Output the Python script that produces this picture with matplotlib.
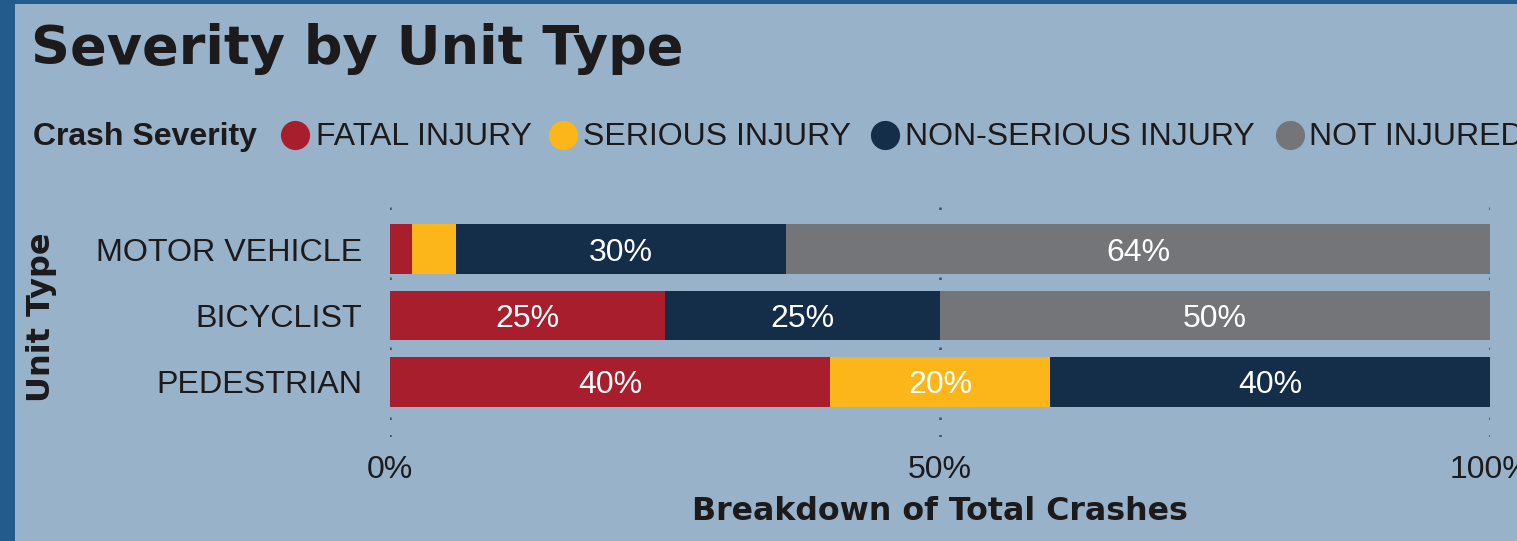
import matplotlib
matplotlib.use("Agg")
import matplotlib.pyplot as plt
from matplotlib.lines import Line2D
from matplotlib.patches import Rectangle
import numpy as np

# ---- data ----
unit_types = ["MOTOR VEHICLE", "BICYCLIST", "PEDESTRIAN"]
severities = ["FATAL INJURY", "SERIOUS INJURY", "NON-SERIOUS INJURY", "NOT INJURED"]
fatal = [2, 25, 40]
serious = [4, 0, 20]
non_serious = [30, 25, 40]
not_injured = [64, 50, 0]
series = [fatal, serious, non_serious, not_injured]
colors = ["#a91e2c", "#fcb61a", "#142d48", "#747579"]
x_ticks = [0, 50, 100]
x_tick_labels = ["0%", "50%", "100%"]

W, H = 1517, 541
DPI = 100
BG = "#98b2ca"
TXT = "#1c1a1b"
FONT = "Liberation Sans"

fig = plt.figure(figsize=(W / DPI, H / DPI), dpi=DPI)
fig.patch.set_facecolor(BG)

def fx(px):
    return px / W

def fy(py):
    return 1 - py / H

# frame border (left and top)
fig.add_artist(Rectangle((0, 0), fx(15), 1, transform=fig.transFigure,
                         facecolor="#235b8c", edgecolor="none", zorder=0))
fig.add_artist(Rectangle((0, fy(4)), 1, fy(0) - fy(4), transform=fig.transFigure,
                         facecolor="#235b8c", edgecolor="none", zorder=0))

ax = fig.add_axes([fx(390), fy(437), fx(1490) - fx(390), fy(200) - fy(437)])
ax.set_facecolor("none")

y = np.arange(len(unit_types))
left = np.zeros(len(unit_types))
for vals, col in zip(series, colors):
    vals = np.array(vals, dtype=float)
    ax.barh(y, vals, left=left, height=0.75, color=col, edgecolor="none", zorder=3)
    for yi, (l, v) in enumerate(zip(left, vals)):
        if v >= 10:
            ax.text(l + v / 2, yi, f"{v:.0f}%", ha="center", va="center_baseline",
                    color="white", fontsize=23, family=FONT, zorder=4)
    left += vals

ax.set_xlim(0, 100)
ax.set_ylim(2.83, -0.74)
ax.set_yticks(y)
ax.set_yticklabels(unit_types, fontsize=23.2, family=FONT, color=TXT)
ax.set_xticks(x_ticks)
ax.set_xticklabels(x_tick_labels, fontsize=23, family=FONT, color=TXT)
ax.tick_params(axis="y", length=0, pad=20)
ax.tick_params(axis="x", length=0, pad=13)
for s in ax.spines.values():
    s.set_visible(False)
ax.grid(axis="x", color="#4a4f57", linestyle=(0, (1, 6)), linewidth=1.8, zorder=1)
ax.grid(axis="y", visible=False)

# axis titles
fig.text(fx(940), fy(511), "Breakdown of Total Crashes", fontsize=22.8, fontweight="bold",
         family="DejaVu Sans", color=TXT, ha="center", va="center")
fig.text(fx(42), fy(317), "Unit Type", fontsize=23, fontweight="bold", rotation=90,
         family="DejaVu Sans", color=TXT, ha="center", va="center")

# title
fig.text(fx(31), fy(49), "Severity by Unit Type", fontsize=39, fontweight="bold",
         family="DejaVu Sans", color=TXT, ha="left", va="center")

# legend
ly = fy(135)
fig.text(fx(33), fy(137), "Crash Severity", fontsize=23, fontweight="bold",
         family=FONT, color=TXT, ha="left", va="center")
circle_x = [295, 563, 885, 1290]
text_x = [316, 583, 905, 1309]
for cx, tx, lab, col in zip(circle_x, text_x, severities, colors):
    fig.add_artist(Line2D([fx(cx)], [ly], marker="o", markersize=21,
                          markerfacecolor=col, markeredgecolor="none",
                          linestyle="none", transform=fig.transFigure))
    fig.text(fx(tx), fy(137), lab, fontsize=23, family=FONT,
             color=TXT, ha="left", va="center")

fig.savefig("out.png", dpi=DPI, facecolor=BG)
